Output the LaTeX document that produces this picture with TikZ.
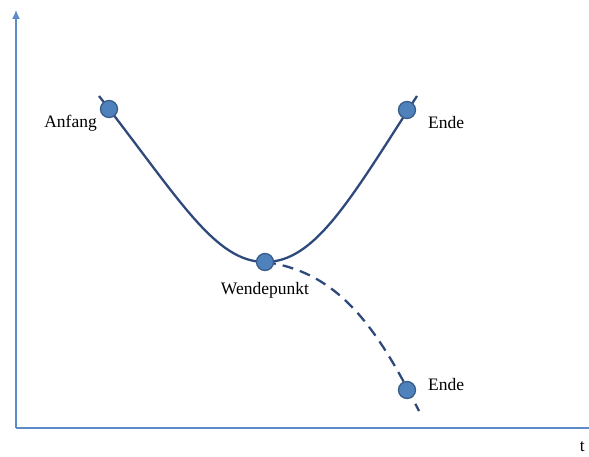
\documentclass[tikz,border=0pt]{standalone}
\usepackage{fontspec}
\setmainfont{Liberation Serif}
\usetikzlibrary{arrows.meta}
\definecolor{axisblue}{HTML}{5B8CC8}
\definecolor{curveblue}{HTML}{2E4A7D}
\definecolor{dotfill}{HTML}{4F81BD}
\definecolor{dotdraw}{HTML}{385D8A}
\begin{document}
\begin{tikzpicture}[x=1pt,y=-1pt,
  axis/.style={draw=axisblue,line width=1.3pt},
  curve/.style={draw=curveblue,line width=2.3pt},
  dot/.style={circle,fill=dotfill,draw=dotdraw,line width=1.3pt,minimum size=17pt,inner sep=0pt},
  lbl/.style={font=\fontsize{17.5}{20}\selectfont,text=black,inner sep=0pt}]
\useasboundingbox (0,0) rectangle (589,457);
% axes
\coordinate (o) at (16,428);
\coordinate (ytop) at (16,10);
\coordinate (xend) at (590,428);
\draw[axis,-{Latex[length=9pt,width=8pt]}] (o) -- (ytop);
\draw[axis] (o) -- (xend);
\node[lbl,anchor=east] (t) at (585,447) {t};
% curve
\coordinate (s) at (99,96);
\coordinate (m) at (265,262);
\coordinate (e) at (417,96);
\coordinate (d) at (419,411);
\draw[curve] (s) .. controls (180,200) and (215,262) .. (m) .. controls (315,262) and (350,200) .. (e);
\draw[curve,dash pattern=on 11pt off 7pt] (m) .. controls (340,272) and (378,330) .. (d);
% dots
\node[dot] (anfang) at (109,109) {};
\node[dot] (ende1) at (407,110) {};
\node[dot] (wende) at (265,262) {};
\node[dot] (ende2) at (407,390) {};
% labels
\node[lbl,anchor=east] (la) at (97,123) {Anfang};
\node[lbl,anchor=west] (le1) at (428,123) {Ende};
\node[lbl] (lw) at (265,290) {Wendepunkt};
\node[lbl,anchor=west] (le2) at (428,385) {Ende};
\end{tikzpicture}
\end{document}
